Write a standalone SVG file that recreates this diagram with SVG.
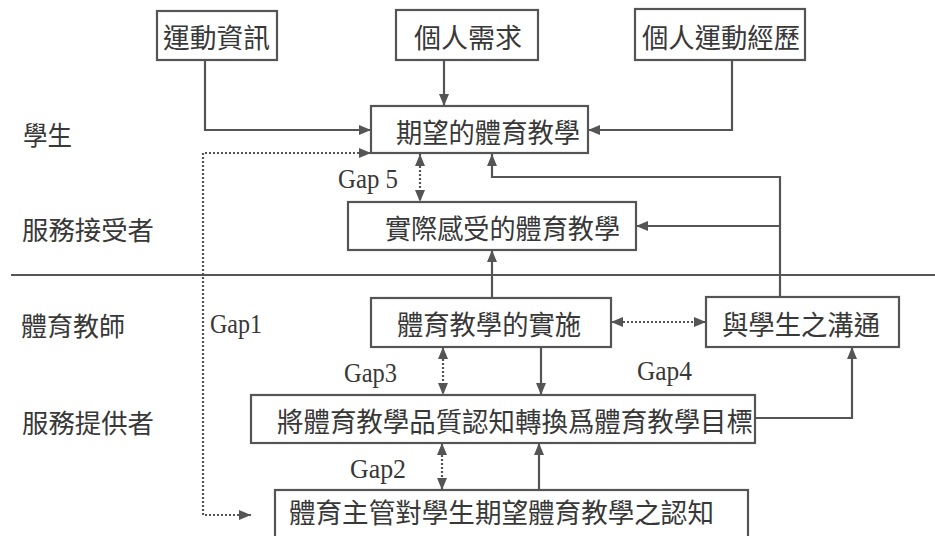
<svg xmlns="http://www.w3.org/2000/svg" width="935" height="536" viewBox="0 0 935 536">
<style>
.box{fill:#fff;stroke:#555;stroke-width:2.2}
.ln{fill:none;stroke:#555;stroke-width:2.2}
.dt{fill:none;stroke:#555;stroke-width:2.2;stroke-dasharray:2 2}
.zh{font-family:"Noto Sans CJK TC","Noto Sans CJK SC",sans-serif;font-size:27px;fill:#383838;dominant-baseline:central}
.side{font-family:"Noto Sans CJK TC","Noto Sans CJK SC",sans-serif;font-size:26px;fill:#383838;dominant-baseline:central}
.gap{font-family:"Liberation Serif",serif;font-size:28px;fill:#383838}
</style>
<defs>
<marker id="ah" viewBox="0 0 12 10" refX="12" refY="5" markerWidth="12" markerHeight="10" orient="auto-start-reverse" markerUnits="userSpaceOnUse"><path d="M0,0 L12,5 L0,10 z" fill="#555"/></marker>
</defs>
<rect width="935" height="536" fill="#fff"/>
<g id="labels">
<text class="side" x="23" y="133" textLength="49" lengthAdjust="spacingAndGlyphs">學生</text>
<text class="side" x="22" y="228" textLength="132" lengthAdjust="spacingAndGlyphs">服務接受者</text>
<text class="side" x="21" y="324" textLength="104" lengthAdjust="spacingAndGlyphs">體育教師</text>
<text class="side" x="22" y="421" textLength="132" lengthAdjust="spacingAndGlyphs">服務提供者</text>
<text class="gap" x="338" y="188" textLength="60" lengthAdjust="spacingAndGlyphs">Gap 5</text>
<text class="gap" x="210" y="333" textLength="52" lengthAdjust="spacingAndGlyphs">Gap1</text>
<text class="gap" x="344" y="382" textLength="53" lengthAdjust="spacingAndGlyphs">Gap3</text>
<text class="gap" x="637" y="380" textLength="55" lengthAdjust="spacingAndGlyphs">Gap4</text>
<text class="gap" x="350" y="478" textLength="56" lengthAdjust="spacingAndGlyphs">Gap2</text>
</g>
<line x1="11" y1="275" x2="935" y2="275" class="ln"/>
<g id="connectors">
<polyline class="ln" points="205,60 205,130 371,130" marker-end="url(#ah)"/>
<polyline class="ln" points="444,60 444,106" marker-end="url(#ah)"/>
<polyline class="ln" points="732,60 732,130 588,130" marker-end="url(#ah)"/>
<polyline class="dt" points="251,515 203,515 203,153 371,153" marker-start="url(#ah)" marker-end="url(#ah)"/>
<line class="dt" x1="420" y1="154" x2="420" y2="202" marker-start="url(#ah)" marker-end="url(#ah)"/>
<polyline class="ln" points="780,298 780,177 492,177 492,154" marker-end="url(#ah)"/>
<polyline class="ln" points="780,226 636,226" marker-end="url(#ah)"/>
<polyline class="ln" points="492,298 492,250" marker-end="url(#ah)"/>
<line class="dt" x1="611" y1="322" x2="706" y2="322" marker-start="url(#ah)" marker-end="url(#ah)"/>
<line class="dt" x1="443" y1="347" x2="443" y2="395" marker-start="url(#ah)" marker-end="url(#ah)"/>
<polyline class="ln" points="541,347 541,395" marker-end="url(#ah)"/>
<polyline class="ln" points="755,418 852,418 852,347" marker-end="url(#ah)"/>
<line class="dt" x1="442" y1="443" x2="442" y2="490" marker-start="url(#ah)" marker-end="url(#ah)"/>
<polyline class="ln" points="539,490 539,443" marker-end="url(#ah)"/>
</g>
<g id="n1"><rect class="box" x="157" y="11" width="120" height="49"/><text class="zh" x="163" y="36" textLength="107" lengthAdjust="spacingAndGlyphs">運動資訊</text></g>
<g id="n2"><rect class="box" x="396" y="10" width="142" height="50"/><text class="zh" x="414" y="36" textLength="108" lengthAdjust="spacingAndGlyphs">個人需求</text></g>
<g id="n3"><rect class="box" x="635" y="9" width="170" height="51"/><text class="zh" x="642" y="36" textLength="158" lengthAdjust="spacingAndGlyphs">個人運動經歷</text></g>
<g id="n4"><rect class="box" x="371" y="106" width="217" height="47"/><text class="zh" x="396" y="131" textLength="184" lengthAdjust="spacingAndGlyphs">期望的體育教學</text></g>
<g id="n5"><rect class="box" x="348" y="202" width="288" height="48"/><text class="zh" x="385" y="227" textLength="235" lengthAdjust="spacingAndGlyphs">實際感受的體育教學</text></g>
<g id="n6"><rect class="box" x="371" y="298" width="240" height="49"/><text class="zh" x="397" y="323" textLength="184" lengthAdjust="spacingAndGlyphs">體育教學的實施</text></g>
<g id="n7"><rect class="box" x="706" y="297" width="193" height="50"/><text class="zh" x="722" y="323" textLength="158" lengthAdjust="spacingAndGlyphs">與學生之溝通</text></g>
<g id="n8"><rect class="box" x="251" y="395" width="504" height="48"/><text class="zh" x="277" y="420" textLength="476" lengthAdjust="spacingAndGlyphs">將體育教學品質認知轉換爲體育教學目標</text></g>
<g id="n9"><rect class="box" x="275" y="490" width="473" height="60"/><text class="zh" x="289" y="511" textLength="425" lengthAdjust="spacingAndGlyphs">體育主管對學生期望體育教學之認知</text></g>
</svg>
